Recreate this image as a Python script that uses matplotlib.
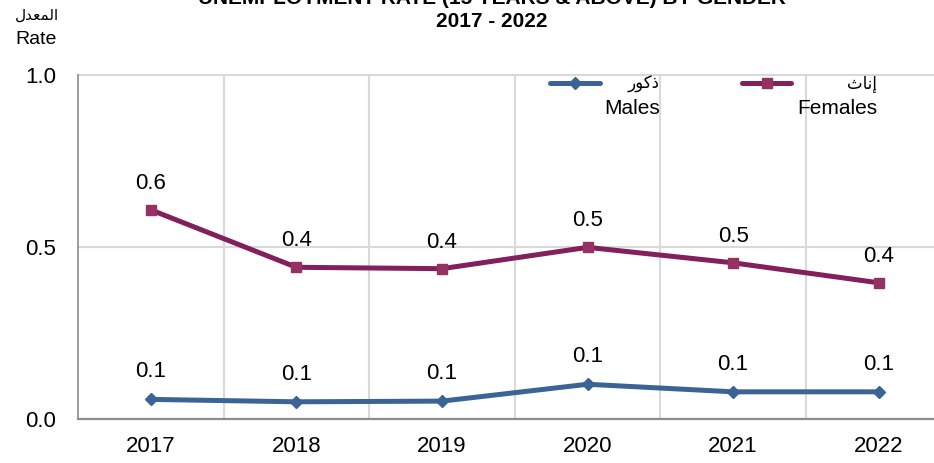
import matplotlib
matplotlib.use("Agg")
import matplotlib.pyplot as plt
from matplotlib.lines import Line2D

plt.rcParams['font.family'] = ['Liberation Sans', 'DejaVu Sans']

years = ["2017", "2018", "2019", "2020", "2021", "2022"]
males = [0.057, 0.050, 0.052, 0.101, 0.079, 0.079]
females = [0.608, 0.441, 0.437, 0.499, 0.454, 0.396]
male_labels = ["0.1", "0.1", "0.1", "0.1", "0.1", "0.1"]
female_labels = ["0.6", "0.4", "0.4", "0.5", "0.5", "0.4"]
yticks = [0.0, 0.5, 1.0]
ytick_labels = ["0.0", "0.5", "1.0"]

# Arabic text in shaped (presentation) forms, visual order
ar_rate = "\uFEDD\uFEAA\uFECC\uFEE4\uFEDF\uFE8D"   # المعدل
ar_males = "\uFEAD\uFEEE\uFEDB\uFEAB"              # ذكور
ar_females = "\uFE99\uFE8E\uFEE7\uFE87"            # إناث

title1 = "UNEMPLOYMENT RATE (15 YEARS & ABOVE) BY GENDER"
title2 = "2017 - 2022"

male_color = "#3B6496"
female_line = "#821F5C"
female_marker = "#953263"

W, H = 934, 463
fig = plt.figure(figsize=(W / 100, H / 100), dpi=100)
ax = fig.add_axes([78 / W, 1 - 419 / H, 873.5 / W, 344 / H])

x = list(range(len(years)))
ax.plot(x, females, color=female_line, lw=3.6, marker='s', ms=7.5,
        mfc=female_marker, mec=female_marker, zorder=3, solid_capstyle='round')
ax.plot(x, males, color=male_color, lw=3.6, marker='D', ms=6.5,
        mfc=male_color, mec=male_color, zorder=3, solid_capstyle='round')

for xi, v, t in zip(x, females, female_labels):
    ax.annotate(t, (xi, v), xytext=(0, 19), textcoords='offset points',
                ha='center', va='center', fontsize=16, color='#000000')
for xi, v, t in zip(x, males, male_labels):
    ax.annotate(t, (xi, v), xytext=(0, 20), textcoords='offset points',
                ha='center', va='center', fontsize=16, color='#000000')

ax.set_xlim(-0.5, len(years) - 0.5)
ax.set_ylim(0, 1.0)
ax.set_xticks(x)
ax.set_xticklabels(years, fontsize=16)
ax.set_yticks(yticks)
ax.set_yticklabels(ytick_labels, fontsize=16)
ax.tick_params(axis='x', length=0, pad=12)
ax.tick_params(axis='y', length=0, pad=16)

for b in [i + 0.5 for i in range(len(years) - 1)]:
    ax.axvline(b, color='#D9D9D9', lw=1.5, zorder=1)
for yv in yticks[1:]:
    ax.axhline(yv, color='#D9D9D9', lw=1.5, zorder=1, clip_on=False)

for s in ['top', 'right']:
    ax.spines[s].set_visible(False)
ax.spines['left'].set_color('#8C8C8C')
ax.spines['left'].set_linewidth(1.2)
ax.spines['bottom'].set_color('#8C8C8C')
ax.spines['bottom'].set_linewidth(1.6)

# titles
fig.text(491.5 / W, 1 - 3.5 / H, title1, ha='center', va='baseline',
         fontsize=15, fontweight='bold')
fig.text(491.5 / W, 1 - 27 / H, title2, ha='center', va='baseline',
         fontsize=15, fontweight='bold')

# y-axis title
fig.text(15 / W, 1 - 15 / H, ar_rate, ha='left', va='center', fontsize=11,
         family=['DejaVu Sans'])
fig.text(15 / W, 1 - 40 / H, "Rate", ha='left', va='center', fontsize=14)

# legend (manual)
def legend_entry(x0, x1, xr, color, mcolor, marker, ms, ar, en):
    fig.add_artist(Line2D([x0 / W, x1 / W], [1 - 83 / H, 1 - 83 / H],
                          transform=fig.transFigure, color=color, lw=3.6,
                          solid_capstyle='round'))
    fig.add_artist(Line2D([(x0 + x1) / 2 / W], [1 - 83 / H],
                          transform=fig.transFigure, color=mcolor, marker=marker,
                          ms=ms, mfc=mcolor, mec=mcolor, lw=0))
    fig.text(xr / W, 1 - 84 / H, ar, ha='right', va='center', fontsize=12,
             family=['DejaVu Sans'])
    fig.text(xr / W, 1 - 109 / H, en, ha='right', va='center', fontsize=15)

legend_entry(550, 600, 660, male_color, male_color, 'D', 6.5, ar_males, "Males")
legend_entry(742, 791, 877, female_line, female_marker, 's', 7.5, ar_females, "Females")

fig.savefig("out.png", dpi=100)
